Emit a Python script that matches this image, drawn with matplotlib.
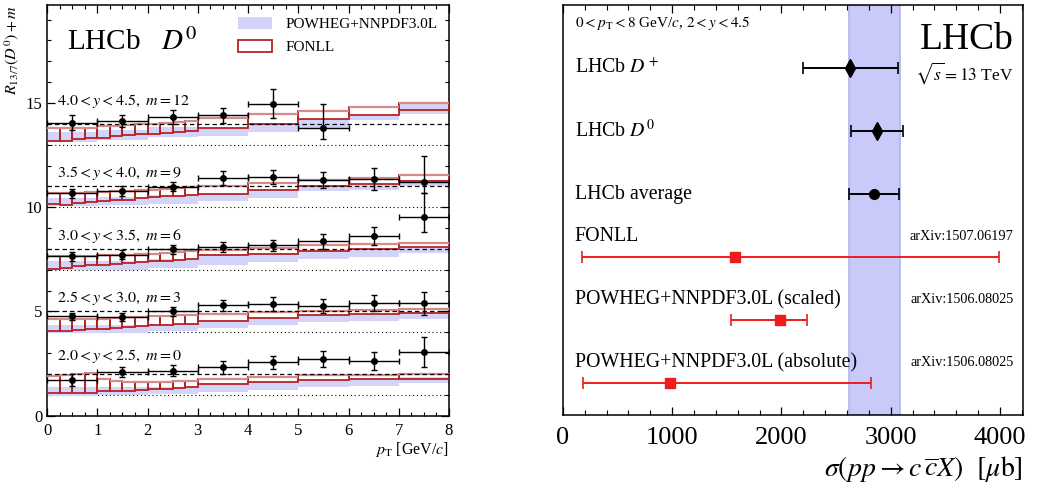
import numpy as np
import matplotlib
matplotlib.use("Agg")
import matplotlib.pyplot as plt
from matplotlib.patches import Patch
from matplotlib.ticker import MultipleLocator
import matplotlib.transforms as mtransforms

plt.rcParams["font.family"] = ["Liberation Serif", "DejaVu Serif"]
plt.rcParams["mathtext.fontset"] = "stix"

# ---- left panel data: R_13/7(D0) per rapidity bin (without offset m) ----
y_bins = [(2.0, 2.5), (2.5, 3.0), (3.0, 3.5), (3.5, 4.0), (4.0, 4.5)]
offsets = [0, 3, 6, 9, 12]
pt_centers = [0.5, 1.5, 2.5, 3.5, 4.5, 5.5, 6.5, 7.5]

data_val = [
    [1.72, 2.09, 2.16, 2.32, 2.56, 2.72, 2.64, 3.06],
    [1.77, 1.74, 2.01, 2.29, 2.37, 2.26, 2.40, 2.40],
    [1.64, 1.72, 1.98, 2.09, 2.17, 2.37, 2.64, 3.51],
    [1.66, 1.77, 1.98, 2.40, 2.45, 2.32, 2.35, 2.20],
    [2.06, 2.13, 2.32, 2.40, 2.96, 1.82],
]
data_err_up = [
    [0.28, 0.23, 0.27, 0.30, 0.32, 0.38, 0.43, 0.73],
    [0.16, 0.18, 0.22, 0.28, 0.34, 0.34, 0.37, 0.55],
    [0.21, 0.21, 0.22, 0.24, 0.28, 0.36, 0.43, 1.15],
    [0.21, 0.24, 0.21, 0.32, 0.33, 0.39, 0.51, 1.24],
    [0.35, 0.28, 0.35, 0.37, 0.69, 1.14],
]
data_err_dn = [
    [0.28, 0.23, 0.27, 0.30, 0.32, 0.38, 0.43, 0.73],
    [0.16, 0.18, 0.22, 0.28, 0.34, 0.34, 0.37, 0.55],
    [0.21, 0.21, 0.22, 0.24, 0.28, 0.36, 0.43, 0.71],
    [0.21, 0.24, 0.21, 0.32, 0.33, 0.39, 0.51, 0.54],
    [0.35, 0.28, 0.35, 0.37, 0.69, 0.56],
]

# FONLL bins: 0.25 wide up to 3 GeV, then 1 GeV
fonll_edges = [0, 0.25, 0.5, 0.75, 1.0, 1.25, 1.5, 1.75, 2.0, 2.25, 2.5, 2.75,
               3, 4, 5, 6, 7, 8]
fonll_hi = [
    [1.90, 1.96, 2.01, 2.05, 1.77, 1.66, 1.64, 1.64, 1.64, 1.64, 1.66, 1.68, 1.77, 1.85, 1.93, 1.97, 2.01],
    [1.66, 1.66, 1.66, 1.66, 1.66, 1.69, 1.72, 1.75, 1.77, 1.80, 1.82, 1.85, 1.88, 1.98, 2.04, 2.09, 2.12],
    [1.64, 1.64, 1.64, 1.67, 1.69, 1.70, 1.72, 1.74, 1.77, 1.80, 1.83, 1.88, 1.93, 2.05, 2.17, 2.25, 2.30],
    [1.69, 1.69, 1.69, 1.72, 1.74, 1.77, 1.80, 1.82, 1.85, 1.88, 1.91, 1.96, 2.04, 2.17, 2.32, 2.40, 2.56],
    [1.80, 1.80, 1.82, 1.82, 1.88, 1.91, 1.96, 1.97, 1.97, 2.05, 2.08, 2.13, 2.29, 2.45, 2.61, 2.80, 3.02],
]
fonll_lo = [
    [1.09, 1.09, 1.09, 1.11, 1.19, 1.19, 1.19, 1.22, 1.26, 1.30, 1.33, 1.36, 1.53, 1.61, 1.69, 1.75, 1.77],
    [1.06, 1.08, 1.10, 1.15, 1.18, 1.20, 1.24, 1.29, 1.33, 1.37, 1.40, 1.42, 1.53, 1.69, 1.81, 1.87, 1.92],
    [1.06, 1.09, 1.16, 1.21, 1.24, 1.29, 1.32, 1.35, 1.40, 1.43, 1.48, 1.51, 1.69, 1.78, 1.90, 2.01, 2.09],
    [1.14, 1.12, 1.20, 1.23, 1.28, 1.34, 1.37, 1.42, 1.47, 1.52, 1.55, 1.60, 1.64, 1.84, 2.04, 2.09, 2.25],
    [1.19, 1.19, 1.25, 1.30, 1.34, 1.40, 1.45, 1.50, 1.53, 1.58, 1.63, 1.68, 1.82, 2.00, 2.21, 2.43, 2.67],
]

# POWHEG+NNPDF3.0L bands, 1 GeV bins
powheg_edges = [0, 1, 2, 3, 4, 5, 6, 7, 8]
powheg_lo = [
    [0.93, 0.97, 1.03, 1.14, 1.25, 1.38, 1.43, 1.57],
    [0.98, 0.98, 1.06, 1.19, 1.37, 1.50, 1.56, 1.65],
    [1.01, 1.01, 1.08, 1.22, 1.38, 1.54, 1.62, 1.82],
    [1.06, 1.10, 1.14, 1.30, 1.46, 1.78, 1.82, 2.00],
    [1.14, 1.22, 1.38, 1.41, 1.61, 1.77, 2.20, 2.48],
]
powheg_hi = [
    [1.37, 1.37, 1.40, 1.53, 1.61, 1.70, 1.75, 1.84],
    [1.35, 1.35, 1.42, 1.53, 1.69, 1.81, 1.87, 1.95],
    [1.40, 1.40, 1.50, 1.69, 1.78, 1.90, 2.01, 2.10],
    [1.45, 1.50, 1.60, 1.64, 1.84, 2.04, 2.09, 2.30],
    [1.61, 1.69, 1.84, 1.82, 2.03, 2.24, 2.43, 2.95],
]

# ---- right panel data: sigma(pp -> ccX) in microbarn ----
xs_labels = ["POWHEG+NNPDF3.0L (absolute)", "POWHEG+NNPDF3.0L (scaled)", "FONLL",
             "LHCb average", r"LHCb $D^0$", r"LHCb $D^+$"]
xs_refs = ["arXiv:1506.08025", "arXiv:1506.08025", "arXiv:1507.06197", "", "", ""]
xs_val = [982, 1986, 1574, 2850, 2874, 2627]
xs_lo = [186, 1541, 171, 2621, 2636, 2194]
xs_hi = [2822, 2237, 3991, 3079, 3109, 3070]
lhcb_band = (2621, 3085)

blue = "#d4d4fb"
red = "#b32424"

fig = plt.figure(figsize=(10.54, 5.0), dpi=100)

# ================= left panel =================
ax = fig.add_axes([0.0446, 0.1686, 0.3814, 0.8214])
ax.set_xlim(0, 8)
ax.set_ylim(0, 19.7)

fl = np.array(fonll_edges[:-1])
fw = np.diff(fonll_edges)
pl = np.array(powheg_edges[:-1])
pw = np.diff(powheg_edges)
label_dy = [2.87, 2.64, 2.64, 2.64, 3.1]

for i, m in enumerate(offsets):
    ax.axhline(m + 1, color="k", ls=(0, (1, 2.5)), lw=0.8, zorder=1)
    ax.axhline(m + 2, color="k", ls=(0, (3.5, 2.5)), lw=0.9, zorder=4)
    plo = np.array(powheg_lo[i])
    phi = np.array(powheg_hi[i])
    ax.bar(pl, phi - plo, width=pw, bottom=plo + m, align="edge",
           color=blue, lw=0, zorder=2)
    flo = np.array(fonll_lo[i])
    fhi = np.array(fonll_hi[i])
    ax.bar(fl, fhi - flo, width=fw, bottom=flo + m, align="edge",
           fill=False, edgecolor=red, lw=1.3, zorder=3)
    ax.hlines(fhi + m, fl, fl + fw, color="#d88a8a", lw=1.6, zorder=3)
    val = np.array(data_val[i])
    n = len(val)
    ax.errorbar(pt_centers[:n], val + m, xerr=0.5,
                yerr=[data_err_dn[i], data_err_up[i]],
                fmt="o", ms=4, color="k", ecolor="k", elinewidth=1,
                capsize=2.5, capthick=1, zorder=5)
    lo, hi = y_bins[i]
    ax.text(0.2, m + label_dy[i], rf"${lo:.1f} < y < {hi:.1f},\ m = {m}$",
            fontsize=11.5, va="center", ha="left", zorder=6)

ax.text(0.4, 17.9, r"LHCb   $D^0$", fontsize=21, va="center", ha="left")

leg_handles = [Patch(facecolor=blue, edgecolor="none"),
               Patch(facecolor="white", edgecolor=red, lw=1.3)]
ax.legend(leg_handles, ["POWHEG+NNPDF3.0L", "FONLL"], loc="upper left",
          bbox_to_anchor=(0.475, 0.97), frameon=False, fontsize=11,
          handlelength=2.2, handleheight=0.8, handletextpad=0.9,
          borderpad=0, borderaxespad=0, labelspacing=0.55)

ax.xaxis.set_major_locator(MultipleLocator(1))
ax.xaxis.set_minor_locator(MultipleLocator(0.25))
ax.yaxis.set_major_locator(MultipleLocator(5))
ax.yaxis.set_minor_locator(MultipleLocator(1))
ax.tick_params(which="both", direction="in", top=True, right=True, labelsize=12)
ax.tick_params(which="major", length=6, width=0.9)
ax.tick_params(which="minor", length=3, width=0.8)
ax.tick_params(axis="x", pad=5)
ax.set_xlabel(r"$p_{\mathrm{T}}$ [GeV/$c$]", loc="right", fontsize=11.5, labelpad=1)
ax.set_ylabel(r"$R_{13/7}(D^0) + m$", loc="top", fontsize=11.5)
ax.yaxis.set_label_coords(-0.065, 1.0)
for s in ax.spines.values():
    s.set_linewidth(1.1)

# ================= right panel =================
ax2 = fig.add_axes([0.534, 0.17, 0.4365, 0.82])
ax2.set_xlim(0, 4210)
ax2.set_ylim(-0.5, 6.0)
ax2.axvspan(lhcb_band[0], lhcb_band[1], facecolor="#cacafa",
            edgecolor="#b4b4ee", lw=1.2, zorder=0)

ypos = np.arange(len(xs_val))
trans = mtransforms.blended_transform_factory(ax2.transAxes, ax2.transData)
for j in range(len(xs_val)):
    lhcb = xs_refs[j] == ""
    if lhcb:
        color = "k"
        marker = "o" if j == 3 else "d"
        ms = 7 if j == 3 else 9
    else:
        color = "#ee1c1c"
        marker = "s"
        ms = 7
    ax2.errorbar([xs_val[j]], [ypos[j]],
                 xerr=[[xs_val[j] - xs_lo[j]], [xs_hi[j] - xs_val[j]]],
                 fmt=marker, ms=ms, color=color, ecolor=color, elinewidth=1.4,
                 capsize=4, capthick=1.2, zorder=3)
    ty = ypos[j] if lhcb else ypos[j] + 0.33
    ax2.text(0.026, ty, xs_labels[j], transform=trans, fontsize=14.3,
             va="center", ha="left")
    if not lhcb:
        ax2.text(0.98, ty, xs_refs[j], transform=trans, fontsize=10.3,
                 va="center", ha="right")

ax2.text(0.026, 0.955, r"$0 < p_{\mathrm{T}} < 8$ GeV/$c$, $2 < y < 4.5$",
         transform=ax2.transAxes, fontsize=11, va="center", ha="left")
ax2.text(0.98, 0.915, "LHCb", transform=ax2.transAxes, fontsize=27,
         va="center", ha="right")
ax2.text(0.98, 0.835, r"$\sqrt{s} = 13$ TeV", transform=ax2.transAxes,
         fontsize=12.5, va="center", ha="right")

ax2.set_yticks([])
ax2.xaxis.set_major_locator(MultipleLocator(1000))
ax2.xaxis.set_minor_locator(MultipleLocator(200))
ax2.tick_params(which="both", direction="in", top=True, labelsize=19)
ax2.tick_params(which="major", length=6, width=0.9, pad=9)
ax2.tick_params(which="minor", length=3.5, width=0.8)
ax2.set_xlabel(r"$\sigma(pp \rightarrow c\,\overline{c}X)\ \ [\mu\mathrm{b}]$",
               loc="right", fontsize=20, labelpad=3)
for s in ax2.spines.values():
    s.set_linewidth(1.1)

fig.savefig("out.png", dpi=100)
